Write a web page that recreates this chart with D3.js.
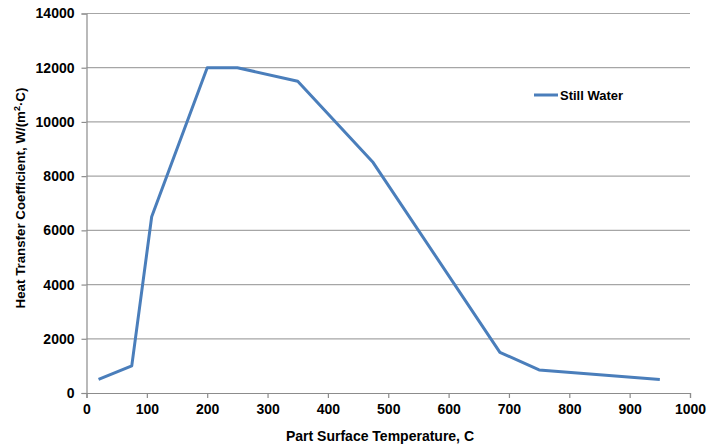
<!DOCTYPE html>
<html>
<head>
<meta charset="utf-8">
<script src="https://d3js.org/d3.v7.min.js"></script>
<style>
  body { margin: 0; background: #fff; }
  text { font-family: "Liberation Sans", Arial, sans-serif; font-weight: bold; fill: #000; }
</style>
</head>
<body>
<div id="chart"></div>
<script>
// series: Still Water
var tempC = [20, 75, 108, 200, 250, 350, 475, 685, 750, 950]
var htc   = [500, 1000, 6500, 12000, 12000, 11500, 8500, 1500, 850, 500]
var seriesName = "Still Water"
var xTicks = [0, 100, 200, 300, 400, 500, 600, 700, 800, 900, 1000]
var yTicks = [0, 2000, 4000, 6000, 8000, 10000, 12000, 14000]

var width = 707, height = 446
var margin = {left: 86.5, right: 17, top: 13.5, bottom: 53}

var svg = d3.select("#chart").append("svg")
  .attr("width", width)
  .attr("height", height)

var x = d3.scaleLinear().domain([0, 1000]).range([margin.left, width - margin.right])
var y = d3.scaleLinear().domain([0, 14000]).range([height - margin.bottom, margin.top])

// gridlines
svg.append("g").selectAll("line")
  .data(yTicks.filter(function (d) { return d > 0 }))
  .enter().append("line")
  .attr("x1", x(0)).attr("x2", x(1000))
  .attr("y1", function (d) { return y(d) }).attr("y2", function (d) { return y(d) })
  .attr("stroke", "#a6a6a6").attr("stroke-width", 1.2)

// y axis
var yAxis = svg.append("g")
  .attr("transform", "translate(" + x(0) + ",0)")
  .call(d3.axisLeft(y).tickValues(yTicks).tickSize(5).tickPadding(7).tickFormat(d3.format("d")))
yAxis.select(".domain").attr("stroke", "#8c8c8c").attr("stroke-width", 1.2)
yAxis.selectAll(".tick line").attr("stroke", "#8c8c8c").attr("stroke-width", 1.2)
yAxis.selectAll("text").style("font-size", "14px").style("font-family", "Liberation Sans, Arial, sans-serif").style("font-weight", "bold")

// x axis
var xAxis = svg.append("g")
  .attr("transform", "translate(0," + y(0) + ")")
  .call(d3.axisBottom(x).tickValues(xTicks).tickSize(5).tickPadding(6).tickFormat(d3.format("d")))
xAxis.select(".domain").attr("stroke", "#8c8c8c").attr("stroke-width", 1.2)
xAxis.selectAll(".tick line").attr("stroke", "#8c8c8c").attr("stroke-width", 1.2)
xAxis.selectAll("text").style("font-size", "14px").style("font-family", "Liberation Sans, Arial, sans-serif").style("font-weight", "bold")

// line
var line = d3.line()
  .x(function (d, i) { return x(tempC[i]) })
  .y(function (d) { return y(d) })

svg.append("path")
  .datum(htc)
  .attr("fill", "none")
  .attr("stroke", "#4a7ebb")
  .attr("stroke-width", 3)
  .attr("stroke-linejoin", "round")
  .attr("d", line)

// legend
svg.append("line")
  .attr("x1", 534).attr("x2", 558).attr("y1", 95).attr("y2", 95)
  .attr("stroke", "#4a7ebb").attr("stroke-width", 3)
svg.append("text")
  .attr("x", 560).attr("y", 100)
  .style("font-size", "13px")
  .text(seriesName)

// axis titles
svg.append("text")
  .attr("x", 380).attr("y", 441)
  .attr("text-anchor", "middle")
  .style("font-size", "14px")
  .text("Part Surface Temperature, C")

var yt = svg.append("text")
  .attr("transform", "translate(25,198) rotate(-90)")
  .attr("text-anchor", "middle")
  .style("font-size", "13.3px")
yt.append("tspan").text("Heat Transfer Coefficient, W/(m")
yt.append("tspan").attr("baseline-shift", "super").style("font-size", "9px").text("2")
yt.append("tspan").text("\u00b7C)")
</script>
</body>
</html>
